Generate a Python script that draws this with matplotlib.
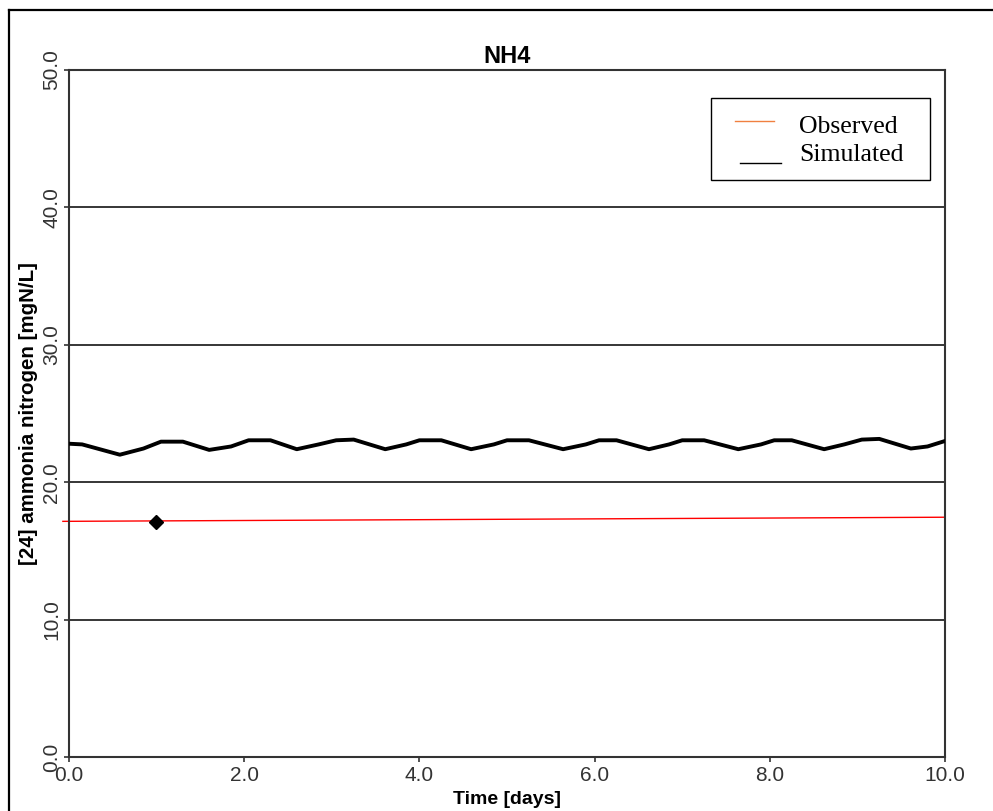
import matplotlib
matplotlib.use("Agg")
import matplotlib.pyplot as plt
from matplotlib.lines import Line2D
from matplotlib.patches import Rectangle

# simulated NH4 (days, mgN/L)
sim_days = [0.0, 0.15, 0.58, 0.85, 1.05, 1.3, 1.6, 1.85, 2.05, 2.3, 2.6, 2.85,
            3.05, 3.25, 3.61, 3.85, 4.0, 4.25, 4.59, 4.85, 5.0, 5.25, 5.64,
            5.9, 6.05, 6.25, 6.62, 6.85, 7.0, 7.25, 7.64, 7.9, 8.05, 8.25,
            8.62, 8.85, 9.05, 9.25, 9.61, 9.8, 10.0]
sim_vals = [22.8, 22.75, 22.0, 22.45, 22.95, 22.95, 22.35, 22.6, 23.05, 23.05,
            22.4, 22.75, 23.05, 23.1, 22.4, 22.75, 23.05, 23.05, 22.4, 22.75,
            23.05, 23.05, 22.4, 22.75, 23.05, 23.05, 22.4, 22.75, 23.05, 23.05,
            22.4, 22.75, 23.05, 23.05, 22.4, 22.75, 23.1, 23.15, 22.45, 22.6,
            23.0]

# observed trend line and observed sample
obs_line_days = [-0.07, 10.0]
obs_line_vals = [17.15, 17.45]
obs_days = [0.99]
obs_vals = [17.1]

y_ticks = [0, 10, 20, 30, 40, 50]
x_ticks = [0, 2, 4, 6, 8, 10]

fig = plt.figure(figsize=(9.93, 8.11), dpi=100)
ax = fig.add_axes([0.0695, 0.0666, 0.8822, 0.8471])

for v in y_ticks[1:-1]:
    ax.axhline(v, color="black", lw=1.1, zorder=1)

ax.plot(sim_days, sim_vals, color="black", lw=2.8, zorder=3)
ax.plot(obs_line_days, obs_line_vals, color="#ff0000", lw=1.0, clip_on=False, zorder=2)
ax.plot(obs_days, obs_vals, marker="D", ms=7, color="black", ls="none", zorder=4)

ax.set_xlim(0, 10)
ax.set_ylim(0, 50)
ax.set_xticks(x_ticks)
ax.set_yticks(y_ticks)
ax.set_xticklabels([f"{t:.1f}" for t in x_ticks], fontsize=15, family="Liberation Sans", color="#333333")
ax.set_yticklabels([f"{t:.1f}" for t in y_ticks], fontsize=15, family="Liberation Sans",
                   color="#333333", rotation=90, va="center")
ax.tick_params(axis="both", length=3.5, width=1.2, color="#333333")
ax.tick_params(axis="x", pad=3)
ax.tick_params(axis="y", pad=2)
for s in ax.spines.values():
    s.set_color("#333333")
    s.set_linewidth(1.5)

ax.set_title("NH4", fontsize=17, fontweight="bold", family="Liberation Sans", pad=5)
ax.set_xlabel("Time [days]", fontsize=14, fontweight="bold", family="Liberation Sans", labelpad=4)
ax.set_ylabel("[24] ammonia nitrogen [mgN/L]", fontsize=14.8, fontweight="bold",
              family="Liberation Sans", labelpad=3)

# legend box drawn by hand
W, H = 993, 811
def fx(px):
    return px / W
def fy(py):
    return 1 - py / H

fig.add_artist(Rectangle((fx(711), fy(180)), fx(930) - fx(711), fy(98) - fy(180),
                         transform=fig.transFigure, fill=False, edgecolor="black", lw=1.0))
fig.add_artist(Line2D([fx(735), fx(774)], [fy(121), fy(121)], color="#f08040", lw=1.0,
                      transform=fig.transFigure))
fig.add_artist(Line2D([fx(740), fx(781)], [fy(163), fy(163)], color="black", lw=1.0,
                      transform=fig.transFigure))
fig.text(fx(799), fy(127), "Observed", fontsize=18.5, family="Liberation Serif", va="center")
fig.text(fx(799), fy(155), "Simulated", fontsize=18.5, family="Liberation Serif", va="center")

# outer frame (only top and left edges visible)
fig.add_artist(Line2D([fx(8.5), 1.0], [fy(9.5), fy(9.5)], color="black", lw=1.6,
                      transform=fig.transFigure))
fig.add_artist(Line2D([fx(8.5), fx(8.5)], [fy(9.5), 0.0], color="black", lw=1.6,
                      transform=fig.transFigure))

fig.savefig("out.png", dpi=100)
